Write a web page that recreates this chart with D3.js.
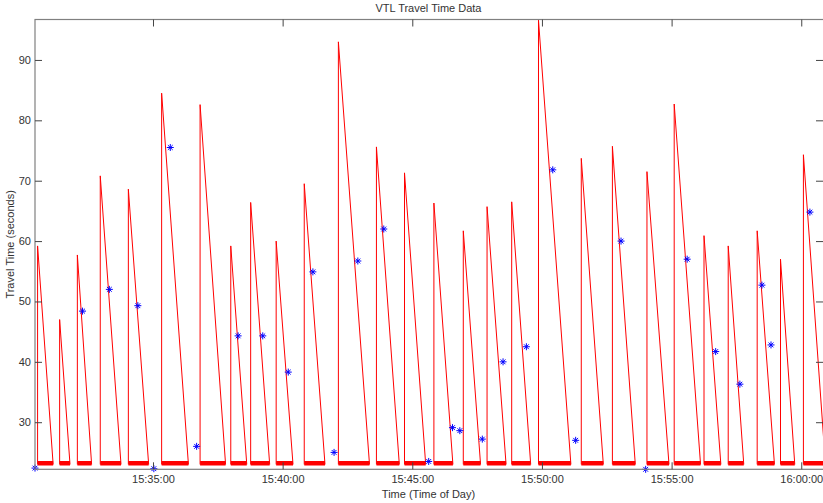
<!DOCTYPE html>
<html>
<head>
<meta charset="utf-8">
<title>VTL Travel Time Data</title>
<style>
  body { margin: 0; background: #fff; }
  svg text { font-family: Arial, "Liberation Sans", sans-serif; font-size: 11px; fill: #333; }
</style>
</head>
<body>
<svg id="chart" width="823" height="503"></svg>
<script src="https://cdn.jsdelivr.net/npm/d3@7"></script>
<script>
// signal cycles: time the light turns red, travel time at that moment, time the queue clears
const riseTimes = ["15:30:33","15:31:24","15:32:05","15:32:58","15:34:03","15:35:20","15:36:49","15:38:00","15:38:46","15:39:45",
                   "15:40:50","15:42:09","15:43:37","15:44:42","15:45:50","15:46:58","15:47:53","15:48:50","15:49:52","15:51:31",
                   "15:52:43","15:54:03","15:55:06","15:56:15","15:57:11","15:58:18","15:59:12","16:00:05"];
const peakValues = [59.2, 47.0, 57.7, 70.8, 68.6, 84.5, 82.6, 59.2, 66.4, 60.0,
                    69.5, 93.0, 75.6, 71.3, 66.3, 61.7, 65.7, 66.5, 96.6, 73.7,
                    75.7, 71.5, 82.7, 60.9, 59.2, 61.7, 57.0, 74.3];
const endTimes  = ["15:31:09","15:31:48","15:32:38","15:33:46","15:34:50","15:36:22","15:37:48","15:38:37","15:39:30","15:40:24",
                   "15:41:38","15:43:21","15:44:30","15:45:31","15:46:34","15:47:38","15:48:37","15:49:34","15:51:07","15:52:22",
                   "15:53:36","15:54:54","15:56:07","15:56:54","15:57:47","15:58:58","15:59:45","16:00:56"];
const baseTravel = 23;

// measured vehicles
const starTimes  = ["15:30:27","15:32:17","15:33:19","15:34:25","15:35:02","15:35:40","15:36:41","15:38:17","15:39:14","15:40:13",
                    "15:41:10","15:41:59","15:42:54","15:43:54","15:45:38","15:46:33","15:46:50","15:47:42","15:48:30","15:49:24",
                    "15:50:25","15:51:18","15:53:03","15:54:00","15:55:36","15:56:42","15:57:38","15:58:29","15:58:50","16:00:20"];
const starValues = [22.4, 48.4, 52.0, 49.3, 22.3, 75.5, 26.0, 44.3, 44.3, 38.3,
                    54.9, 25.0, 56.7, 62.0, 23.5, 29.1, 28.6, 27.2, 40.0, 42.5,
                    71.8, 27.0, 60.0, 22.2, 57.0, 41.7, 36.3, 52.7, 42.8, 64.8];

const xTicks = ["15:35:00","15:40:00","15:45:00","15:50:00","15:55:00","16:00:00"];
const yTicks = [30, 40, 50, 60, 70, 80, 90];

const parse = d3.timeParse("%H:%M:%S");
const fmt = d3.timeFormat("%H:%M:%S");

const L = 35, R = 822, T = 19.5, B = 469.3;
const svg = d3.select("#chart");

const x = d3.scaleTime().domain([parse("15:30:27"), parse("16:00:48")]).range([L, R]);
const y = d3.scaleLinear().domain([22.2, 96.7]).range([B, T]);

svg.append("defs").append("clipPath").attr("id", "clip")
  .append("rect").attr("x", L).attr("y", T).attr("width", R - L + 2).attr("height", B - T);

const plot = svg.append("g").attr("clip-path", "url(#clip)");

const cycles = riseTimes.map((t, i) => ({ t0: parse(t), peak: peakValues[i], t1: parse(endTimes[i]) }));

// thick flat part at the bottom of each cycle
plot.selectAll("line.base").data(cycles).join("line")
  .attr("class", "base")
  .attr("x1", d => x(d.t0)).attr("x2", d => x(d.t1))
  .attr("y1", y(baseTravel) - 1.3).attr("y2", y(baseTravel) - 1.3)
  .attr("stroke", "#ff0000").attr("stroke-width", 4.5);

const saw = d3.line().x(d => d[0]).y(d => d[1]);
plot.selectAll("path.saw").data(cycles).join("path")
  .attr("class", "saw")
  .attr("d", d => saw([[x(d.t0), y(baseTravel)], [x(d.t0), y(d.peak)], [x(d.t1), y(baseTravel)]]))
  .attr("fill", "none").attr("stroke", "#ff0000").attr("stroke-width", 1);

// star markers
const stars = starTimes.map((t, i) => ({ t: parse(t), v: starValues[i] }));
const r = 3.5, rd = 2.4;
const starPath = `M${-r},0H${r}M0,${-r}V${r}M${-rd},${-rd}L${rd},${rd}M${-rd},${rd}L${rd},${-rd}`;
svg.append("g").selectAll("path").data(stars).join("path")
  .attr("transform", d => `translate(${x(d.t)},${y(d.v)})`)
  .attr("d", starPath)
  .attr("fill", "none").attr("stroke", "#0000ff").attr("stroke-width", 1);

// frame (right edge sits just past the window)
svg.append("rect").attr("x", L).attr("y", T).attr("width", R - L + 2).attr("height", B - T)
  .attr("fill", "none").attr("stroke", "#808080").attr("stroke-width", 1.2);

// axes with inward ticks
const xt = xTicks.map(parse);
svg.append("g").attr("transform", `translate(0,${B})`)
  .call(d3.axisBottom(x).tickValues(xt).tickFormat(fmt).tickSize(-7).tickPadding(6));
svg.append("g").attr("transform", `translate(0,${T})`)
  .call(d3.axisTop(x).tickValues(xt).tickFormat("").tickSize(-7));
svg.append("g").attr("transform", `translate(0.5,0)`).attr("transform", `translate(${L},0)`)
  .call(d3.axisLeft(y).tickValues(yTicks).tickSize(-7).tickPadding(4));
svg.append("g").attr("transform", `translate(${R + 1},0)`)
  .call(d3.axisRight(y).tickValues(yTicks).tickFormat("").tickSize(-7));

svg.selectAll(".domain").remove();
svg.selectAll(".tick line").attr("stroke", "#444");
svg.selectAll(".tick text").style("font-family", "Arial, 'Liberation Sans', sans-serif").style("font-size", "11px").attr("fill", "#333");

svg.append("text").attr("x", (L + R) / 2).attr("y", 12).attr("text-anchor", "middle").text("VTL Travel Time Data");
svg.append("text").attr("x", (L + R) / 2).attr("y", 498).attr("text-anchor", "middle").text("Time (Time of Day)");
svg.append("text").attr("transform", `translate(14,${(T + B) / 2}) rotate(-90)`).attr("text-anchor", "middle").text("Travel Time (seconds)");
</script>
</body>
</html>
